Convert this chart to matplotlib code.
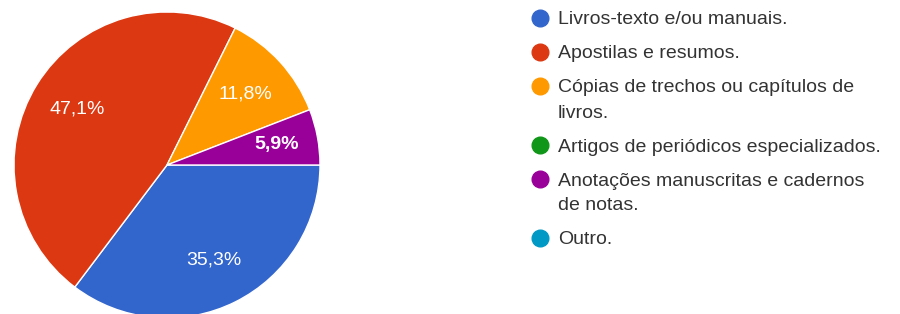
import numpy as np
import matplotlib.pyplot as plt

plt.rcParams['font.family'] = ['Liberation Sans', 'DejaVu Sans']

categorias = ['Livros-texto e/ou manuais.',
              'Apostilas e resumos.',
              'Cópias de trechos ou capítulos de\nlivros.',
              'Artigos de periódicos especializados.',
              'Anotações manuscritas e cadernos\nde notas.',
              'Outro.']
respostas = [6, 8, 2, 0, 1, 0]
cores = ['#3366cc', '#dc3912', '#ff9900', '#109618', '#990099', '#0099c6']

W, H = 900, 314
fig = plt.figure(figsize=(9, 3.14), dpi=100)
ax = fig.add_axes([0, 0, 1, 1])

# so fatias com valor > 0
idx = [i for i, v in enumerate(respostas) if v > 0]
vals = [respostas[i] for i in idx]
cols = [cores[i] for i in idx]

def fmt(p):
    return f'{p:.1f}%'.replace('.', ',')

R = 153
cx, cy = 167, H - 165
wedges, texts, autotexts = ax.pie(vals, colors=cols, startangle=0, counterclock=False,
                                  center=(cx, cy), radius=R, autopct=fmt,
                                  pctdistance=0.69,
                                  wedgeprops=dict(edgecolor='white', linewidth=1),
                                  textprops=dict(color='white', fontsize=14))
ax.set_xlim(0, W)
ax.set_ylim(0, H)
ax.set_aspect('equal')
ax.axis('off')

# fatia pequena: rotulo um pouco mais para fora e em negrito
for w, t, i in zip(wedges, autotexts, idx):
    if i == 4:
        ang = np.deg2rad((w.theta1 + w.theta2) / 2)
        t.set_position((cx + 0.73 * R * np.cos(ang), cy + 0.73 * R * np.sin(ang)))
        t.set_fontweight('bold')

# legenda estilo google forms: bolinha alinhada com a primeira linha
lx, ly = 540, 20        # centro da primeira bolinha (px, a partir do topo)
passo_item, passo_linha = 34, 25
y = ly
for cat, c in zip(categorias, cores):
    ax.plot(lx, H - y + 2, 'o', ms=12, color=c, mec=c, clip_on=False)
    for k, linha in enumerate(cat.split('\n')):
        if k > 0:
            y += passo_linha
        ax.text(lx + 18, H - y, linha, fontsize=14, color='#333333', va='center', ha='left')
    y += passo_item

fig.savefig('out.png', dpi=100)
